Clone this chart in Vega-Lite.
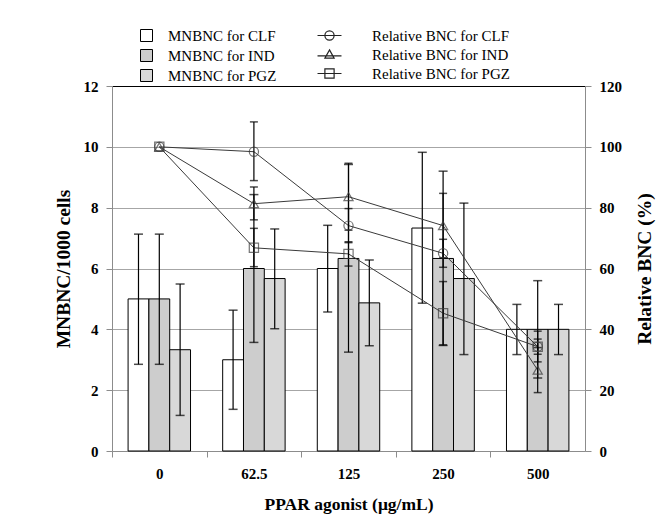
{
  "$schema": "https://vega.github.io/schema/vega-lite/v6.json",
  "width": 473,
  "height": 365,
  "autosize": {"type": "none"},
  "padding": {"left": 112, "top": 86, "right": 75, "bottom": 65},
  "background": "white",
  "config": {
    "font": "Liberation Serif",
    "view": {"stroke": null},
    "axis": {
      "labelFont": "Liberation Serif",
      "titleFont": "Liberation Serif",
      "labelFontWeight": "bold",
      "titleFontWeight": "bold",
      "labelColor": "black",
      "titleColor": "black",
      "labelFontSize": 15,
      "titleFontSize": 19.5,
      "domainColor": "#8c8c8c",
      "tickColor": "#8c8c8c",
      "tickSize": 6,
      "gridColor": "#a6a6a6"
    },
    "legend": {"labelFont": "Liberation Serif", "labelFontSize": 15, "labelColor": "black"}
  },
  "datasets": {
    "mn": [
      {"dose": "0", "group": "CLF", "value": 5.0, "lo": 2.85, "hi": 7.13},
      {"dose": "62.5", "group": "CLF", "value": 3.0, "lo": 1.37, "hi": 4.63},
      {"dose": "125", "group": "CLF", "value": 6.0, "lo": 4.57, "hi": 7.42},
      {"dose": "250", "group": "CLF", "value": 7.33, "lo": 4.86, "hi": 9.82},
      {"dose": "500", "group": "CLF", "value": 4.0, "lo": 3.17, "hi": 4.82},
      {"dose": "0", "group": "IND", "value": 5.0, "lo": 2.85, "hi": 7.13},
      {"dose": "62.5", "group": "IND", "value": 6.0, "lo": 3.57, "hi": 8.43},
      {"dose": "125", "group": "IND", "value": 6.33, "lo": 3.25, "hi": 9.42},
      {"dose": "250", "group": "IND", "value": 6.33, "lo": 3.47, "hi": 9.2},
      {"dose": "500", "group": "IND", "value": 4.0, "lo": 2.4, "hi": 5.6},
      {"dose": "0", "group": "PGZ", "value": 3.33, "lo": 1.17, "hi": 5.49},
      {"dose": "62.5", "group": "PGZ", "value": 5.67, "lo": 4.02, "hi": 7.3},
      {"dose": "125", "group": "PGZ", "value": 4.87, "lo": 3.46, "hi": 6.28},
      {"dose": "250", "group": "PGZ", "value": 5.67, "lo": 3.17, "hi": 8.15},
      {"dose": "500", "group": "PGZ", "value": 4.0, "lo": 3.17, "hi": 4.82}
    ],
    "rel": [
      {"dose": "0", "agent": "CLF", "rbnc": 100, "lo": null, "hi": null},
      {"dose": "62.5", "agent": "CLF", "rbnc": 98.4, "lo": 88.9, "hi": 108.2},
      {"dose": "125", "agent": "CLF", "rbnc": 74.1, "lo": 68.5, "hi": 79.7},
      {"dose": "250", "agent": "CLF", "rbnc": 65.0, "lo": 60.4, "hi": 69.6},
      {"dose": "500", "agent": "CLF", "rbnc": 34.3, "lo": 29.3, "hi": 39.4},
      {"dose": "0", "agent": "IND", "rbnc": 100, "lo": null, "hi": null},
      {"dose": "62.5", "agent": "IND", "rbnc": 81.3, "lo": 76.0, "hi": 86.8},
      {"dose": "125", "agent": "IND", "rbnc": 83.6, "lo": 72.6, "hi": 94.6},
      {"dose": "250", "agent": "IND", "rbnc": 74.1, "lo": 63.5, "hi": 84.7},
      {"dose": "500", "agent": "IND", "rbnc": 26.6, "lo": 19.2, "hi": 34.0},
      {"dose": "0", "agent": "PGZ", "rbnc": 100, "lo": null, "hi": null},
      {"dose": "62.5", "agent": "PGZ", "rbnc": 66.8, "lo": 60.6, "hi": 73.2},
      {"dose": "125", "agent": "PGZ", "rbnc": 64.8, "lo": 60.8, "hi": 68.8},
      {"dose": "250", "agent": "PGZ", "rbnc": 45.3, "lo": 34.9, "hi": 55.7},
      {"dose": "500", "agent": "PGZ", "rbnc": 34.3, "lo": 31.8, "hi": 36.8}
    ]
  },
  "layer": [
    {
      "data": {"name": "mn"},
      "encoding": {
        "x": {
          "field": "dose",
          "type": "nominal",
          "scale": {"domain": ["0", "62.5", "125", "250", "500"], "paddingInner": 0.34, "paddingOuter": 0.17},
          "axis": {
            "title": "PPAR agonist (μg/mL)",
            "titleFontSize": 17.5,
            "labelAngle": 0,
            "bandPosition": 0.5,
            "tickOffset": -47.3,
            "labelOffset": 47.3,
            "labelPadding": 9,
            "titlePadding": 14
          }
        },
        "xOffset": {"field": "group", "type": "nominal", "scale": {"domain": ["CLF", "IND", "PGZ"], "paddingInner": 0, "paddingOuter": 0}}
      },
      "layer": [
        {
          "mark": {"type": "bar", "stroke": "black", "strokeWidth": 1},
          "encoding": {
            "y": {
              "field": "value",
              "type": "quantitative",
              "title": "MNBNC/1000 cells",
              "scale": {"domain": [0, 12]},
              "axis": {
                "orient": "left",
                "values": [0, 2, 4, 6, 8, 10, 12],
                "grid": true,
                "gridColor": {"condition": {"test": "datum.value === 12", "value": "black"}, "value": "#a6a6a6"},
                "labelPadding": 8,
                "titlePadding": 10
              }
            },
            "fill": {
              "field": "group",
              "type": "nominal",
              "scale": {"domain": ["CLF", "IND", "PGZ"], "range": ["white", "#cdcdcd", "#d8d8d8"]},
              "legend": {
                "orient": "none",
                "legendX": 27,
                "legendY": -58,
                "title": null,
                "symbolType": "square",
                "symbolSize": 144,
                "symbolStrokeColor": "black",
                "symbolStrokeWidth": 1,
                "labelOffset": 14,
                "rowPadding": 3,
                "labelExpr": "'MNBNC for ' + datum.label"
              }
            }
          }
        },
        {
          "mark": {"type": "rule", "color": "black", "strokeWidth": 1.2},
          "encoding": {
            "y": {"field": "lo", "type": "quantitative", "title": "MNBNC/1000 cells"},
            "y2": {"field": "hi"}
          }
        },
        {
          "mark": {"type": "tick", "color": "black", "thickness": 1.5, "size": 9},
          "encoding": {"y": {"field": "hi", "type": "quantitative", "title": "MNBNC/1000 cells"}}
        },
        {
          "mark": {"type": "tick", "color": "black", "thickness": 1.5, "size": 9},
          "encoding": {"y": {"field": "lo", "type": "quantitative", "title": "MNBNC/1000 cells"}}
        }
      ]
    },
    {
      "data": {"name": "rel"},
      "encoding": {
        "x": {"field": "dose", "type": "nominal"}
      },
      "layer": [
        {
          "mark": {"type": "line", "color": "#3a3a3a", "strokeWidth": 1},
          "encoding": {
            "y": {
              "field": "rbnc",
              "type": "quantitative",
              "title": "Relative BNC (%)",
              "scale": {"domain": [0, 120]},
              "axis": {
                "orient": "right",
                "values": [0, 20, 40, 60, 80, 100, 120],
                "grid": false,
                "labelPadding": 8,
                "titlePadding": 33,
                "titleAngle": 270
              }
            },
            "detail": {"field": "agent", "type": "nominal"}
          }
        },
        {
          "mark": {"type": "rule", "color": "black", "strokeWidth": 1.2},
          "encoding": {
            "y": {"field": "lo", "type": "quantitative", "title": "Relative BNC (%)"},
            "y2": {"field": "hi"}
          }
        },
        {
          "mark": {"type": "tick", "color": "black", "thickness": 1.5, "size": 8},
          "encoding": {"y": {"field": "hi", "type": "quantitative", "title": "Relative BNC (%)"}}
        },
        {
          "mark": {"type": "tick", "color": "black", "thickness": 1.5, "size": 8},
          "encoding": {"y": {"field": "lo", "type": "quantitative", "title": "Relative BNC (%)"}}
        },
        {
          "mark": {"type": "point", "filled": false, "color": "#3a3a3a", "size": 85, "strokeWidth": 1.2},
          "encoding": {
            "y": {"field": "rbnc", "type": "quantitative", "title": "Relative BNC (%)"},
            "shape": {
              "field": "agent",
              "type": "nominal",
              "scale": {"range": ["circle", "triangle-up", "square"]},
              "legend": null
            }
          }
        },
        {
          "mark": {"type": "point", "filled": false, "color": "#222222", "opacity": 0, "size": 85, "strokeWidth": 1.2},
          "encoding": {
            "y": {"field": "rbnc", "type": "quantitative", "title": "Relative BNC (%)"},
            "shape": {
              "field": "agent",
              "type": "nominal",
              "scale": {"range": ["M-2.6,0L2.6,0M-1,0A1,1 0 1,1 1,0A1,1 0 1,1 -1,0", "M-2.6,0.3L2.6,0.3M0,-1L1,0.8L-1,0.8Z", "M-2.6,0L2.6,0M-1,-1L1,-1L1,1L-1,1Z"]},
              "legend": {
                "orient": "none",
                "legendX": 210,
                "legendY": -58,
                "title": null,
                "symbolSize": 85,
                "symbolOpacity": 1,
                "symbolStrokeColor": "#222222",
                "symbolFillColor": "transparent",
                "symbolStrokeWidth": 1.2,
                "labelOffset": 35,
                "rowPadding": 3,
                "labelExpr": "'Relative BNC for ' + datum.label"
              }
            }
          }
        }
      ],
      "resolve": {"scale": {"shape": "independent"}}
    }
  ],
  "resolve": {"scale": {"y": "independent"}}
}
